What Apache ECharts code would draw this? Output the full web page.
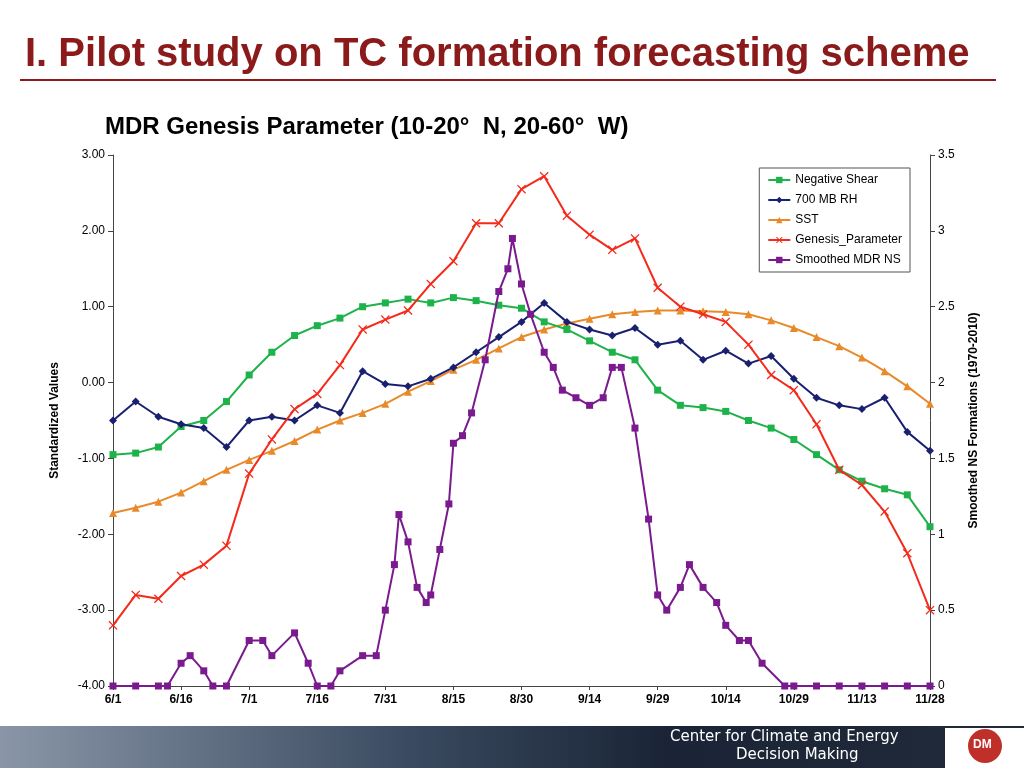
<!DOCTYPE html>
<html><head><meta charset="utf-8">
<script src="https://cdn.jsdelivr.net/npm/echarts@6/dist/echarts.min.js"></script>
<style>html,body{margin:0;padding:0;background:#fff}#c{width:1024px;height:768px}</style>
</head><body><div id="c"></div>
<script>
const tickLabels=['6/1','6/16','7/1','7/16','7/31','8/15','8/30','9/14','9/29','10/14','10/29','11/13','11/28'];
const days=[0,5,10,15,20,25,30,35,40,45,50,55,60,65,70,75,80,85,90,95,100,105,110,115,120,125,130,135,140,145,150,155,160,165,170,175,180];
const shear=[-0.95,-0.93,-0.85,-0.58,-0.5,-0.25,0.1,0.4,0.62,0.75,0.85,1.0,1.05,1.1,1.05,1.12,1.08,1.02,0.98,0.8,0.7,0.55,0.4,0.3,-0.1,-0.3,-0.33,-0.38,-0.5,-0.6,-0.75,-0.95,-1.15,-1.3,-1.4,-1.48,-1.9];
const rh=[-0.5,-0.25,-0.45,-0.55,-0.6,-0.85,-0.5,-0.45,-0.5,-0.3,-0.4,0.15,-0.02,-0.05,0.05,0.2,0.4,0.6,0.8,1.05,0.8,0.7,0.62,0.72,0.5,0.55,0.3,0.42,0.25,0.35,0.05,-0.2,-0.3,-0.35,-0.2,-0.65,-0.9];
const sst=[-1.72,-1.65,-1.57,-1.45,-1.3,-1.15,-1.02,-0.9,-0.77,-0.62,-0.5,-0.4,-0.28,-0.12,0.02,0.17,0.3,0.45,0.6,0.7,0.78,0.84,0.9,0.93,0.95,0.95,0.94,0.93,0.9,0.82,0.72,0.6,0.48,0.33,0.15,-0.05,-0.28];
const gp=[-3.2,-2.8,-2.85,-2.55,-2.4,-2.15,-1.2,-0.75,-0.35,-0.15,0.23,0.7,0.83,0.95,1.3,1.6,2.1,2.1,2.55,2.72,2.2,1.95,1.75,1.9,1.25,1.0,0.9,0.8,0.5,0.1,-0.1,-0.55,-1.15,-1.35,-1.7,-2.25,-3.0];
const nsDays=[0,5,10,12,15,17,20,22,25,30,33,35,40,43,45,48,50,55,58,60,62,63,65,67,69,70,72,74,75,77,79,82,85,87,88,90,92,95,97,99,102,105,108,110,112,115,118,120,122,125,127,130,133,135,138,140,143,148,150,155,160,165,170,175,180];
const ns=[0,0,0,0,0.15,0.2,0.1,0,0,0.3,0.3,0.2,0.35,0.15,0,0,0.1,0.2,0.2,0.5,0.8,1.13,0.95,0.65,0.55,0.6,0.9,1.2,1.6,1.65,1.8,2.15,2.6,2.75,2.95,2.65,2.45,2.2,2.1,1.95,1.9,1.85,1.9,2.1,2.1,1.7,1.1,0.6,0.5,0.65,0.8,0.65,0.55,0.4,0.3,0.3,0.15,0,0,0,0,0,0,0,0];
const pair=(d,v)=>d.map((x,i)=>[x,v[i]]);
const xSym='path://M1,0L5,4L9,0L10,1L6,5L10,9L9,10L5,6L1,10L0,9L4,5L0,1Z';
const chart=echarts.init(document.getElementById('c'));
const mk=(name,data,color,sym,size,yi,z)=>({name,type:'line',data,yAxisIndex:yi,symbol:sym,symbolSize:size,showSymbol:true,z:z,
  lineStyle:{color,width:2},itemStyle:{color,borderWidth:0},emphasis:{disabled:true}});
chart.setOption({
  animation:false,
  title:[{text:'I. Pilot study on TC formation forecasting scheme',left:20,top:30,textStyle:{color:'#8b1a1a',fontSize:40,fontWeight:'bold',fontFamily:'Liberation Sans'}},
         {text:'MDR Genesis Parameter (10-20°  N, 20-60°  W)',left:100,top:110,textStyle:{color:'#000',fontSize:24,fontWeight:'bold',fontFamily:'Liberation Sans'}}],
  grid:{left:113,right:94,top:155,bottom:82},
  legend:{orient:'vertical',right:114,top:168,width:140,itemWidth:22,itemHeight:8,itemGap:8,padding:[6,8,6,8],
    backgroundColor:'#fff',borderColor:'#555',borderWidth:1,textStyle:{fontSize:12,fontFamily:'Liberation Sans',color:'#000'},
    data:['Negative Shear','700 MB RH','SST','Genesis_Parameter','Smoothed MDR NS']},
  xAxis:{type:'value',min:0,max:180,interval:15,axisLine:{onZero:false,lineStyle:{color:'#444'}},axisTick:{length:4},
    splitLine:{show:false},axisLabel:{formatter:v=>tickLabels[v/15],color:'#000',fontSize:12,fontWeight:'bold'}},
  yAxis:[{type:'value',min:-4,max:3,interval:1,name:'Standardized Values',nameLocation:'middle',nameGap:52,
      nameTextStyle:{fontSize:12,fontWeight:'bold',color:'#000'},axisLine:{show:true,onZero:false,lineStyle:{color:'#444'}},axisTick:{show:true},
      splitLine:{show:false},axisLabel:{formatter:v=>v.toFixed(2),color:'#000',fontSize:12}},
    {type:'value',min:0,max:3.5,interval:0.5,position:'right',name:'Smoothed NS Formations (1970-2010)',nameLocation:'middle',nameGap:38,
      nameTextStyle:{fontSize:12,fontWeight:'bold',color:'#000'},axisLine:{show:true,onZero:false,lineStyle:{color:'#444'}},axisTick:{show:true},
      splitLine:{show:false},axisLabel:{color:'#000',fontSize:12}}],
  series:[
    mk('Negative Shear',pair(days,shear),'#1db34a','rect',7,0,3),
    mk('700 MB RH',pair(days,rh),'#1a2070','diamond',8,0,4),
    mk('SST',pair(days,sst),'#e88a2a','triangle',8,0,2),
    mk('Genesis_Parameter',pair(days,gp),'#f42a1a',xSym,9,0,5),
    mk('Smoothed MDR NS',pair(nsDays,ns),'#7a1a8e','rect',7,1,6)
  ],
  graphic:[
    {type:'line',shape:{x1:20,y1:80,x2:996,y2:80},style:{stroke:'#8b1a1a',lineWidth:2}},
    {type:'rect',shape:{x:0,y:726,width:1024,height:42},style:{fill:new echarts.graphic.LinearGradient(0,0,1,0,[{offset:0,color:'#8a96a8'},{offset:0.4,color:'#3a4a60'},{offset:0.65,color:'#1a2436'},{offset:1,color:'#202a3a'}])}},
    {type:'text',left:670,top:730,style:{text:'Center for Climate and Energy',fill:'#fff',fontSize:15,fontFamily:'DejaVu Sans'}},
    {type:'text',left:736,top:748,style:{text:'Decision Making',fill:'#fff',fontSize:15,fontFamily:'DejaVu Sans'}},
    {type:'rect',shape:{x:945,y:728,width:79,height:40},style:{fill:'#fff'}},
    {type:'circle',shape:{cx:985,cy:746,r:17},style:{fill:'#c0302a'}},
    {type:'text',left:973,top:739,style:{text:'DM',fill:'#fff',fontSize:12,fontWeight:'bold'}}
  ]
});
</script></body></html>
